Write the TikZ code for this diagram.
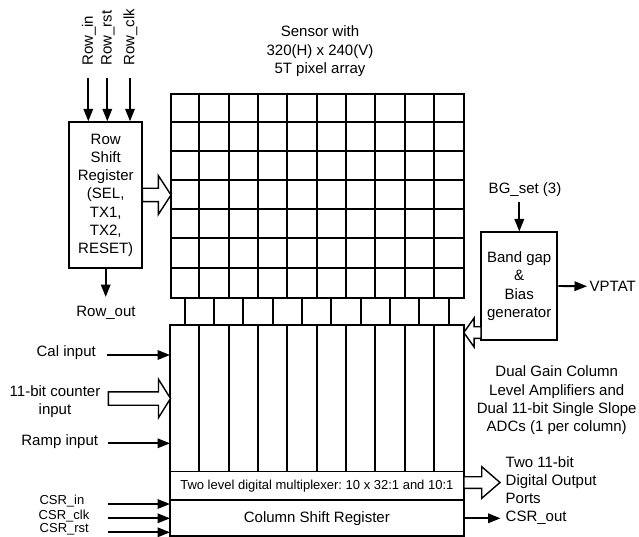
\documentclass[tikz,border=0pt]{standalone}
\usepackage{fontspec}
\setmainfont{Liberation Sans}
\usetikzlibrary{arrows.meta,calc}
\frenchspacing
\newcommand\fatarrow[5]{% #1 start, #2 tip, #3 shaft half width, #4 head half width, #5 head length
  \coordinate (fac) at ($(#2)!#5!(#1)$);
  \path[fat] ($(#1)!#3!90:(#2)$) -- ($(fac)!#3!90:(#2)$) -- ($(fac)!#4!90:(#2)$) -- (#2)
    -- ($(fac)!#4!-90:(#2)$) -- ($(fac)!#3!-90:(#2)$) -- ($(#1)!#3!-90:(#2)$) -- cycle;
}
\begin{document}
\frenchspacing
\begin{tikzpicture}[x=1pt,y=-1pt,
  lbl/.style={font=\fontsize{15}{18.3}\selectfont, inner sep=0pt, align=center},
  sml/.style={font=\fontsize{13}{15}\selectfont, inner sep=0pt},
  blk/.style={draw, line width=2pt, inner sep=0pt},
  gridln/.style={line width=2pt},
  thinln/.style={line width=1.1pt},
  arr/.style={line width=1.9pt, -{Triangle[length=12.5pt,width=9.5pt]}},
  fat/.style={draw, line width=1.4pt, fill=white, miter limit=10}
]
\useasboundingbox (0,0) rectangle (639,537);

% ---- Row inputs
\node[lbl, rotate=90, anchor=west] (rin)  at (89,66) {Row\_in};
\node[lbl, rotate=90, anchor=west] (rrst) at (108,66) {Row\_rst};
\node[lbl, rotate=90, anchor=west] (rclk) at (130.5,66) {Row\_clk};

% ---- Row shift register
\node[blk, lbl, minimum width=73.3pt, minimum height=146pt] (rsr) at (105.7,195.3)
  {Row\\Shift\\Register\\(SEL,\\TX1,\\TX2,\\RESET)};
\coordinate (rinS)  at (88.3,78.3);
\coordinate (rrstS) at (107.3,78.3);
\coordinate (rclkS) at (130,78.3);
\draw[arr] (rinS) -- (rinS |- rsr.north);
\draw[arr] (rrstS) -- (rrstS |- rsr.north);
\draw[arr] (rclkS) -- (rclkS |- rsr.north);

\node[lbl] (rout) at (106,313.3) {Row\_out};
\coordinate (routE) at (105.7,297);
\draw[arr] (rsr.south) -- (routE);

% ---- Sensor title
\node[lbl] (title) at (320,51.2) {Sensor with\\320(H) x 240(V)\\5T pixel array};

% ---- Pixel array
\node[blk, minimum width=293.3pt, minimum height=204pt, anchor=north west] (array) at (170,92.7) {};
\foreach \i in {1,...,9} \draw[gridln] (170+\i*29.333,92.7) -- (170+\i*29.333,296.7);
\foreach \j in {1,...,6} \draw[gridln] (170,92.7+\j*29.143) -- (463.3,92.7+\j*29.143);

% ---- offset row
\foreach \k in {0,...,9} \draw[gridln] (184.7+\k*29.333,296.7) -- (184.7+\k*29.333,325);

% ---- column block, mux, column shift register
\node[minimum width=293.3pt, minimum height=146.7pt, anchor=north west, inner sep=0pt] (colblk) at (170,325) {};
\node[sml, minimum width=293.3pt, minimum height=28.3pt, anchor=north west] (mux) at (170,471.7)
  {Two level digital multiplexer: 10 x 32:1 and 10:1};
\node[lbl, minimum width=293.3pt, minimum height=36pt, anchor=north west] (csr) at (170,500)
  {Column Shift Register};
\foreach \i in {1,...,9} \draw[gridln] (170+\i*29.333,325) -- (170+\i*29.333,471.7);
\draw[thinln] (mux.north west) -- (mux.north east);
\draw[gridln] (csr.north west) -- (csr.north east);
\draw[gridln] (colblk.north west) rectangle (csr.south east);

% ---- Band gap
\node[lbl] (bgset) at (525,190) {BG\_set (3)};
\node[blk, lbl, minimum width=76.3pt, minimum height=107pt] (bg) at (519.2,286)
  {Band gap\\\&\\Bias\\generator};
\coordinate (bgS) at (519.3,201.7);
\draw[arr] (bgS) -- (bgS |- bg.north);
\node[lbl, anchor=west] (vptat) at (589.5,286.3) {VPTAT};
\draw[arr, shorten >=2.5pt] (bg.east) -- (vptat.west);

% ---- Dual gain text
\node[lbl] (dual) at (556.7,400.5)
  {Dual Gain Column\\Level Amplifiers and\\Dual 11-bit Single Slope\\ADCs (1 per column)};

% ---- Left inputs
\node[lbl, anchor=east] (cal) at (96,352.7) {Cal input};
\coordinate (calS) at (106.7,355);
\draw[arr] (calS) -- (calS -| colblk.west);

\node[lbl] (cnt) at (55,401.3) {11-bit counter\\input};

\node[lbl, anchor=east] (ramp) at (98.3,441.7) {Ramp input};
\coordinate (rampS) at (108.3,443.3);
\draw[arr] (rampS) -- (rampS -| colblk.west);

\node[sml, anchor=west] (csrin)  at (39.3,501.5) {CSR\_in};
\node[sml, anchor=west] (csrclk) at (38.5,515.7) {CSR\_clk};
\node[sml, anchor=west] (csrrst) at (39.5,529) {CSR\_rst};
\coordinate (csrinS)  at (108.3,504);
\coordinate (csrclkS) at (108.3,518.3);
\coordinate (csrrstS) at (108.3,532.3);
\draw[arr] (csrinS) -- (csrinS -| csr.west);
\draw[arr] (csrclkS) -- (csrclkS -| csr.west);
\draw[arr] (csrrstS) -- (csrrstS -| csr.west);

% ---- Right outputs
\node[lbl, anchor=west, align=left] (outp) at (505.5,480) {Two 11-bit\\Digital Output\\Ports};
\node[lbl, anchor=west] (csrout) at (505.5,518) {CSR\_out};
\coordinate (csroS) at (463.3,518.3);
\draw[arr, shorten >=5pt] (csroS) -- (csroS -| csrout.west);

% ---- Fat arrows
\coordinate (f1a) at (142.3,195);  \coordinate (f1b) at (171,195);
\fatarrow{f1a}{f1b}{6.7pt}{19.5pt}{12.7pt}
\coordinate (f2a) at (108.3,398.5); \coordinate (f2b) at (170.5,398.5);
\fatarrow{f2a}{f2b}{6.7pt}{19.2pt}{12pt}
\coordinate (f3a) at (481,332.5); \coordinate (f3b) at (463.8,332.5);
\fatarrow{f3a}{f3b}{5.8pt}{14.5pt}{10.3pt}
\coordinate (f4a) at (463.8,482.5); \coordinate (f4b) at (500,482.5);
\fatarrow{f4a}{f4b}{5.8pt}{15.8pt}{18.3pt}
\end{tikzpicture}
\end{document}
